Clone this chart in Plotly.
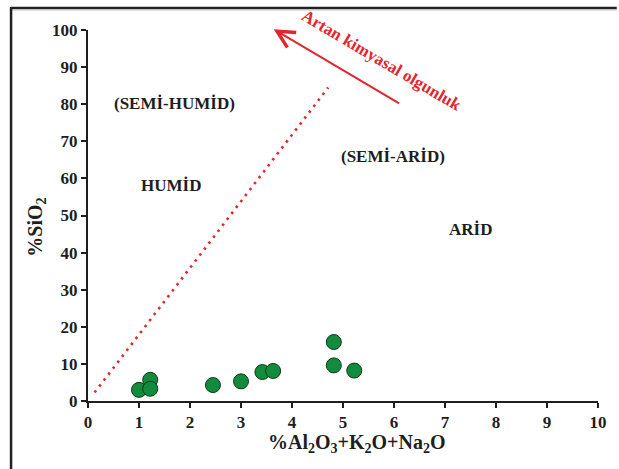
import plotly.graph_objects as go

# Sample compositions
oxide_sum = [1.0, 1.22, 1.22, 2.45, 3.0, 3.42, 3.63, 4.82, 4.82, 5.22]   # %Al2O3+K2O+Na2O
silica = [3.0, 5.7, 3.3, 4.3, 5.3, 7.8, 8.1, 15.9, 9.6, 8.2]             # %SiO2

# Humid / arid divide (dotted)
divide_x = [0.13, 4.71]
divide_y = [2.3, 84.5]

# Maturity arrow (tail -> head)
arrow_tail = (6.13, 80.0)
arrow_head = (3.64, 100.2)

# Climate field labels
field_labels = ["(SEMİ-HUMİD)", "HUMİD", "(SEMİ-ARİD)", "ARİD"]
field_x = [1.7, 1.62, 5.99, 7.5]
field_y = [80.3, 58.2, 66.0, 46.2]

x_ticks = list(range(0, 11))
y_ticks = list(range(0, 101, 10))

SERIF = "Liberation Serif"
RED = "#e3262d"
INK = "#1e1e1e"

W, H = 619, 469
L, R, T, B = 88, 14, 30, 68
pw, ph = W - L - R, H - T - B


def px_x(p):
    return (p - L) / pw


def px_y(p):
    return (H - B - p) / ph


fig = go.Figure()

fig.add_trace(go.Scatter(
    x=divide_x, y=divide_y, mode="lines",
    line=dict(color=RED, width=2.6, dash="2.5px,5px"),
    hoverinfo="skip", showlegend=False,
))

fig.add_trace(go.Scatter(
    x=oxide_sum, y=silica, mode="markers",
    marker=dict(size=15, color="#118c3c", line=dict(color="#0c3a19", width=1)),
    showlegend=False, cliponaxis=False,
))

annotations = []
for t, x, y in zip(field_labels, field_x, field_y):
    annotations.append(dict(
        x=x, y=y, xref="x", yref="y", text=t, showarrow=False,
        xanchor="center", yanchor="middle",
        font=dict(family=SERIF, size=17, color=INK, weight="bold"),
    ))

annotations.append(dict(
    x=arrow_head[0], y=arrow_head[1], ax=arrow_tail[0], ay=arrow_tail[1],
    xref="x", yref="y", axref="x", ayref="y", text="",
    showarrow=True, arrowhead=5, arrowsize=1.7, arrowwidth=2, arrowcolor=RED,
))
annotations.append(dict(
    x=5.76, y=91.9, xref="x", yref="y", text="Artan kimyasal olgunluk",
    showarrow=False, textangle=30.5, xanchor="center", yanchor="middle",
    font=dict(family=SERIF, size=17, color=RED, weight="bold"),
))

# Axis titles
annotations.append(dict(
    x=px_x(360), y=px_y(444), xref="paper", yref="paper",
    xanchor="center", yanchor="middle",
    text="%Al<sub>2</sub>O<sub>3</sub>+K<sub>2</sub>O+Na<sub>2</sub>O",
    showarrow=False, font=dict(family=SERIF, size=20, color=INK, weight="bold"),
))
annotations.append(dict(
    x=px_x(35), y=px_y(227), xref="paper", yref="paper",
    xanchor="center", yanchor="middle",
    text="%SiO<sub>2</sub>", textangle=-90,
    showarrow=False, font=dict(family=SERIF, size=20, color=INK, weight="bold"),
))

axis_common = dict(
    showgrid=False, zeroline=False, showline=True, linecolor=INK, linewidth=2,
    ticks="outside", ticklen=5, tickwidth=2, tickcolor=INK,
    tickfont=dict(family=SERIF, size=17, color=INK, weight="bold"),
)

fig.update_layout(
    width=W, height=H,
    margin=dict(l=L, r=R, t=T, b=B),
    paper_bgcolor="white", plot_bgcolor="white",
    xaxis=dict(range=[0, 10], tickvals=x_ticks, **axis_common),
    yaxis=dict(range=[0, 100], tickvals=y_ticks, **axis_common),
    annotations=annotations,
    shapes=[
        dict(type="line", xref="paper", yref="paper",
             x0=px_x(10), x1=px_x(W + 5), y0=px_y(8), y1=px_y(8),
             line=dict(color="#222222", width=2.5)),
        dict(type="line", xref="paper", yref="paper",
             x0=px_x(10), x1=px_x(W + 5), y0=px_y(10), y1=px_y(10),
             line=dict(color="#bbbbbb", width=1)),
        dict(type="line", xref="paper", yref="paper",
             x0=px_x(10), x1=px_x(10), y0=px_y(7), y1=px_y(H + 5),
             line=dict(color="#222222", width=2.5)),
    ],
)

fig.write_html("out.html")
